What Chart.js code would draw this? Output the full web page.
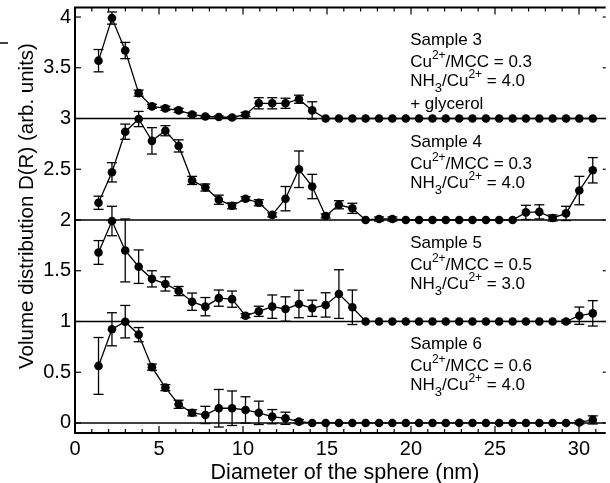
<!DOCTYPE html>
<html>
<head>
<meta charset="utf-8">
<script src="https://cdn.jsdelivr.net/npm/chart.js@4.4.1/dist/chart.umd.min.js"></script>
<style>
  html, body { margin: 0; padding: 0; background: #fff; overflow: hidden; }
  #wrap { width: 610px; height: 483px; }
</style>
</head>
<body>
<div id="wrap"><canvas id="sizeChart" width="610" height="483"></canvas></div>
<script>
// sphere diameters (nm) where the distribution was evaluated
const diameters = [1.40, 2.20, 2.99, 3.79, 4.58, 5.38, 6.17, 6.97, 7.76, 8.56,
                   9.35, 10.15, 10.94, 11.74, 12.53, 13.33, 14.12, 14.92, 15.71, 16.51,
                   17.30, 18.10, 18.89, 19.69, 20.48, 21.28, 22.07, 22.87, 23.66, 24.46,
                   25.25, 26.05, 26.84, 27.64, 28.43, 29.23, 30.02, 30.82];

// D(R) of each sample (before vertical shift) and its error
const sample3 = [0.57, 0.99, 0.67, 0.25, 0.12, 0.10, 0.08, 0.04, 0.02, 0.015,
                 0.01, 0.04, 0.15, 0.15, 0.15, 0.19, 0.08, 0, 0, 0,
                 0, 0, 0, 0, 0, 0, 0, 0, 0, 0,
                 0, 0, 0, 0, 0, 0, 0, 0];
const sample3Err = [0.11, 0.06, 0.08, 0.03, 0.02, 0.02, 0.02, 0.015, 0.01, 0.01,
                    0.01, 0.02, 0.055, 0.055, 0.05, 0.04, 0.085, 0, 0, 0,
                    0, 0, 0, 0, 0, 0, 0, 0, 0, 0,
                    0, 0, 0, 0, 0, 0, 0, 0];

const sample4 = [0.17, 0.47, 0.87, 0.995, 0.78, 0.88, 0.73, 0.39, 0.32, 0.20,
                 0.14, 0.21, 0.17, 0.05, 0.21, 0.50, 0.33, 0.04, 0.15, 0.115,
                 0, 0.01, 0.01, 0, 0, 0, 0, 0, 0, 0,
                 0, 0, 0.075, 0.08, 0.02, 0.065, 0.29, 0.49];
const sample4Err = [0.065, 0.095, 0.075, 0.075, 0.13, 0.05, 0.06, 0.04, 0.035, 0.045,
                    0.03, 0.02, 0.03, 0.02, 0.12, 0.18, 0.12, 0.02, 0.04, 0.05,
                    0, 0.02, 0.02, 0, 0, 0, 0, 0, 0, 0,
                    0, 0, 0.07, 0.07, 0.03, 0.07, 0.14, 0.125];

const sample5 = [0.68, 0.99, 0.70, 0.54, 0.42, 0.37, 0.30, 0.195, 0.146, 0.23,
                 0.22, 0.057, 0.10, 0.146, 0.123, 0.172, 0.13, 0.163, 0.27, 0.14,
                 0, 0, 0, 0, 0, 0, 0, 0, 0, 0,
                 0, 0, 0, 0, 0, 0, 0.057, 0.08];
const sample5Err = [0.117, 0.145, 0.31, 0.165, 0.08, 0.07, 0.045, 0.085, 0.09, 0.08,
                    0.08, 0.02, 0.05, 0.115, 0.12, 0.135, 0.08, 0.12, 0.24, 0.17,
                    0, 0, 0, 0, 0, 0, 0, 0, 0, 0,
                    0, 0, 0, 0, 0, 0.015, 0.085, 0.125];

const sample6 = [0.562, 0.923, 0.998, 0.87, 0.55, 0.348, 0.184, 0.10, 0.079, 0.145,
                 0.145, 0.128, 0.10, 0.062, 0.046, 0.013, 0, 0, 0, 0,
                 0, 0, 0, 0, 0, 0, 0, 0, 0, 0,
                 0, 0, 0, 0, 0, 0, 0.005, 0.03];
const sample6Err = [0.28, 0.163, 0.16, 0.07, 0.03, 0.03, 0.04, 0.03, 0.085, 0.185,
                    0.17, 0.13, 0.115, 0.07, 0.06, 0.02, 0, 0, 0, 0,
                    0, 0, 0, 0, 0, 0, 0, 0, 0, 0,
                    0, 0, 0, 0, 0, 0, 0.015, 0.04];

// vertical shift of each curve in the stacked plot
const offsets = [3, 2, 1, 0];

// labels written next to each curve
const sampleNames = ['Sample 3', 'Sample 4', 'Sample 5', 'Sample 6'];
const cuMcc = ['0.3', '0.3', '0.5', '0.6'];
const nhCu = ['4.0', '4.0', '3.0', '4.0'];
const extraNote = ['+ glycerol', '', '', ''];

const xTicks = [0, 5, 10, 15, 20, 25, 30];
const yTicks = [0, 0.5, 1, 1.5, 2, 2.5, 3, 3.5, 4];

const FONT = 'Liberation Sans, Arial, Helvetica, sans-serif';

const series = [
  { vals: sample3, err: sample3Err, offset: offsets[0] },
  { vals: sample4, err: sample4Err, offset: offsets[1] },
  { vals: sample5, err: sample5Err, offset: offsets[2] },
  { vals: sample6, err: sample6Err, offset: offsets[3] }
];

function seg(ctx, x1, y1, x2, y2) {
  ctx.beginPath();
  ctx.moveTo(x1, y1);
  ctx.lineTo(x2, y2);
  ctx.stroke();
}

// text with super/subscripts: parts = [[text, 'sup'|'sub'|undefined], ...]
function richText(ctx, x, y, parts) {
  let cx = x;
  parts.forEach(([t, kind]) => {
    let dy = 0;
    if (kind === 'sup') { ctx.font = '12px ' + FONT; dy = -8; }
    else if (kind === 'sub') { ctx.font = '13px ' + FONT; dy = 6; }
    else ctx.font = '17px ' + FONT;
    ctx.fillText(t, cx, y + dy);
    cx += ctx.measureText(t).width;
  });
}

const decorations = {
  id: 'decorations',
  beforeDatasetsDraw(chart) {
    const { ctx, chartArea: a, scales: { x, y } } = chart;
    ctx.save();
    ctx.strokeStyle = '#000';

    // zero line of each shifted curve
    ctx.lineWidth = 1.5;
    offsets.forEach(o => {
      const py = y.getPixelForValue(o);
      seg(ctx, a.left, py, a.right, py);
    });

    // error bars
    ctx.lineWidth = 1.3;
    series.forEach(s => {
      s.err.forEach((e, k) => {
        if (!e) return;
        const px = x.getPixelForValue(diameters[k]);
        const top = y.getPixelForValue(s.vals[k] + s.offset + e);
        const bot = y.getPixelForValue(s.vals[k] + s.offset - e);
        seg(ctx, px, top, px, bot);
        seg(ctx, px - 5, top, px + 5, top);
        seg(ctx, px - 5, bot, px + 5, bot);
      });
    });
    ctx.restore();
  },
  afterDraw(chart) {
    const { ctx, chartArea: a, scales: { x, y } } = chart;
    ctx.save();
    ctx.strokeStyle = '#000';
    ctx.fillStyle = '#000';

    // frame (right side falls just outside the picture)
    ctx.lineWidth = 2;
    ctx.beginPath();
    ctx.moveTo(a.right, a.top);
    ctx.lineTo(a.left, a.top);
    ctx.lineTo(a.left, a.bottom);
    ctx.lineTo(a.right, a.bottom);
    ctx.stroke();

    // inward tick marks
    ctx.lineWidth = 1.2;
    for (let v = 0; v <= 31; v++) {
      const px = x.getPixelForValue(v);
      const len = v % 5 === 0 ? 7 : 4;
      seg(ctx, px, a.bottom, px, a.bottom - len);
      seg(ctx, px, a.top, px, a.top + len);
    }
    yTicks.forEach(v => {
      const py = y.getPixelForValue(v);
      seg(ctx, a.left, py, a.left + 6, py);
      seg(ctx, a.right, py, a.right - 3, py);
    });

    // sample annotations
    ctx.textAlign = 'left';
    ctx.textBaseline = 'alphabetic';
    const ax = x.getPixelForValue(19.95);
    sampleNames.forEach((name, i) => {
      const by = y.getPixelForValue(offsets[i] + 0.724);
      richText(ctx, ax, by, [[name]]);
      richText(ctx, ax, by + 22, [['Cu'], ['2+', 'sup'], ['/MCC = ' + cuMcc[i]]]);
      richText(ctx, ax, by + 41, [['NH'], ['3', 'sub'], ['/Cu'], ['2+', 'sup'], [' = ' + nhCu[i]]]);
      if (extraNote[i]) richText(ctx, ax, by + 63.5, [[extraNote[i]]]);
    });

    // axis titles
    ctx.textAlign = 'center';
    ctx.font = '21.5px ' + FONT;
    ctx.fillText('Diameter of the sphere (nm)', 345, 479);
    ctx.save();
    ctx.translate(33, 206);
    ctx.rotate(-Math.PI / 2);
    ctx.font = '20.5px ' + FONT;
    ctx.fillText('Volume distribution D(R) (arb. units)', 0, 0);
    ctx.restore();

    // small stray mark at the top-left of the original figure
    ctx.lineWidth = 1.5;
    seg(ctx, 0, 43, 8, 43);
    ctx.restore();
  }
};

const ctx = document.getElementById('sizeChart').getContext('2d');
new Chart(ctx, {
  type: 'scatter',
  data: {
    datasets: series.map((s, i) => ({
      label: sampleNames[i],
      data: diameters.map((d, k) => ({ x: d, y: s.vals[k] + s.offset })),
      showLine: true,
      borderColor: '#000',
      borderWidth: 1.3,
      pointRadius: 4.3,
      pointBackgroundColor: '#000',
      pointBorderWidth: 0,
      tension: 0
    }))
  },
  options: {
    responsive: false,
    animation: false,
    devicePixelRatio: 1,
    layout: { padding: { left: 0, top: 7.5, right: 0, bottom: 0 } },
    plugins: { legend: { display: false }, tooltip: { enabled: false } },
    scales: {
      x: {
        type: 'linear',
        min: 0,
        max: 31.59,
        afterBuildTicks: sc => { sc.ticks = xTicks.map(v => ({ value: v })); },
        afterFit: sc => { sc.height = 50; sc.paddingLeft = 0; sc.paddingRight = 0; },
        grid: { display: false, drawTicks: false },
        border: { display: false },
        ticks: { color: '#000', padding: 4, font: { family: FONT, size: 20 },
                 callback: v => String(v) }
      },
      y: {
        type: 'linear',
        min: -0.099,
        max: 4.094,
        afterBuildTicks: sc => { sc.ticks = yTicks.map(v => ({ value: v })); },
        afterFit: sc => { sc.width = 75; sc.paddingTop = 0; sc.paddingBottom = 0; },
        grid: { display: false, drawTicks: false },
        border: { display: false },
        ticks: { color: '#000', padding: 4, font: { family: FONT, size: 20 },
                 callback: v => String(v) }
      }
    }
  },
  plugins: [decorations]
});
</script>
</body>
</html>
